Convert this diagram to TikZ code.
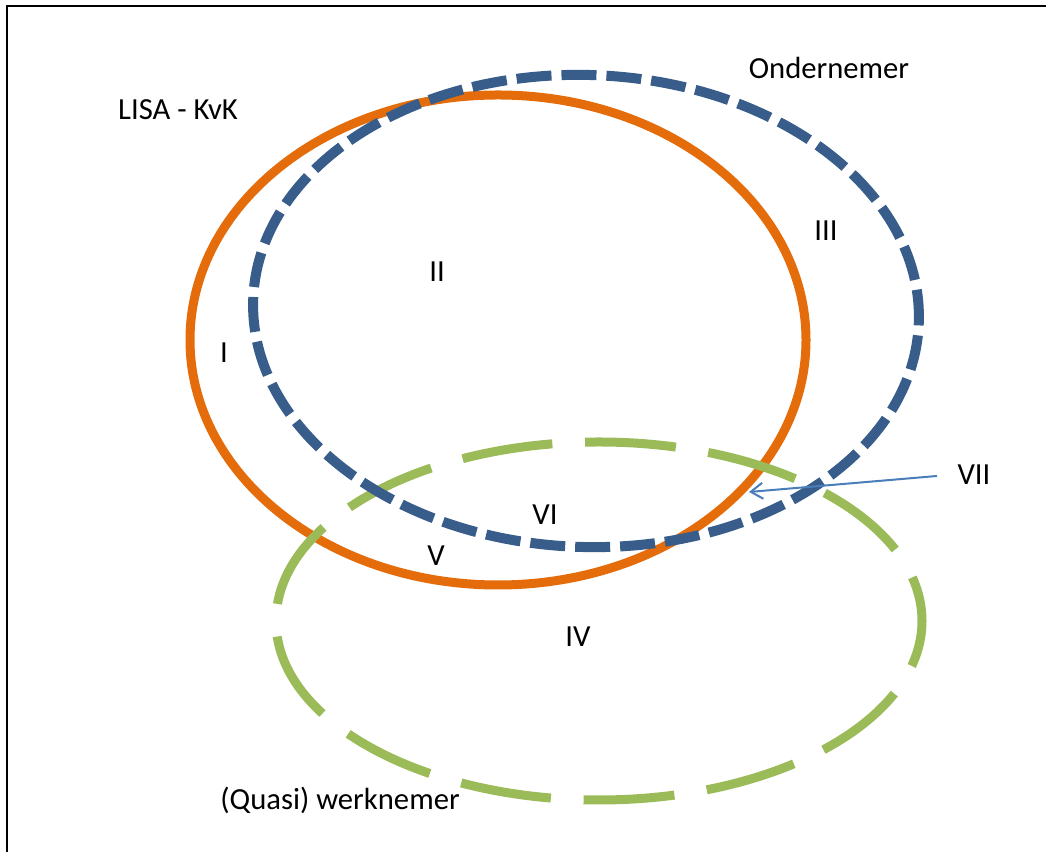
\documentclass[tikz,border=0pt]{standalone}
\usepackage{fontspec}
\setmainfont{Carlito}
\usetikzlibrary{arrows.meta}
\definecolor{setorange}{HTML}{E46C0A}
\definecolor{setblue}{HTML}{385D8A}
\definecolor{setgreen}{HTML}{9BBB59}
\definecolor{pointerblue}{HTML}{4A7EBB}
\tikzset{
  lbl/.style={inner sep=0pt, anchor=base, font=\fontsize{23pt}{27pt}\selectfont, text=black},
  setline/.style={line cap=butt},
  frameline/.style={line width=1.2pt, black},
  pointer/.style={pointerblue, line width=1.5pt, -{Straight Barb[length=9pt,width=12pt]}}
}
\begin{document}
\begin{tikzpicture}[x=0.75pt,y=0.75pt]
  \useasboundingbox (0,0) rectangle (1046,852);
  % open frame: left and top edges
  \draw[frameline] (7,0) -- (7,846) -- (1046,846);

  % LISA - KvK (solid orange)
  \draw[setline, setorange, line width=6.75pt] (498,512) ellipse (308 and 245);
  % (Quasi) werknemer (long green dashes)
  \draw[setline, setgreen, line width=6.75pt,
        dash pattern=on 68.25pt off 24.6pt, dash phase=34.5pt] (599,231) ellipse (323 and 179);
  % Ondernemer (short blue dashes), slightly tilted
  \draw[setline, setblue, line width=7.5pt,
        dash pattern=on 26.25pt off 7.5pt, dash phase=1.5pt,
        rotate around={-2:(586,541)}] (586,541) ellipse (333 and 236);

  % labels
  \node[lbl] (lisa) at (178,732) {LISA - KvK};
  \node[lbl] (ond) at (829,773) {Ondernemer};
  \node[lbl] (quasi) at (340,42) {(Quasi) werknemer};
  \node[lbl] (r1) at (224,489) {I};
  \node[lbl] (r2) at (437,570) {II};
  \node[lbl] (r3) at (826,611) {III};
  \node[lbl] (r4) at (578,205) {IV};
  \node[lbl] (r5) at (436,286) {V};
  \node[lbl] (r6) at (545,327) {VI};
  \node[lbl] (r7) at (974,367) {VII};

  % pointer from VII into its region
  \coordinate (r7tail) at (937,376);
  \coordinate (r7tip) at (749,360);
  \draw[pointer] (r7tail) -- (r7tip);
\end{tikzpicture}
\end{document}
